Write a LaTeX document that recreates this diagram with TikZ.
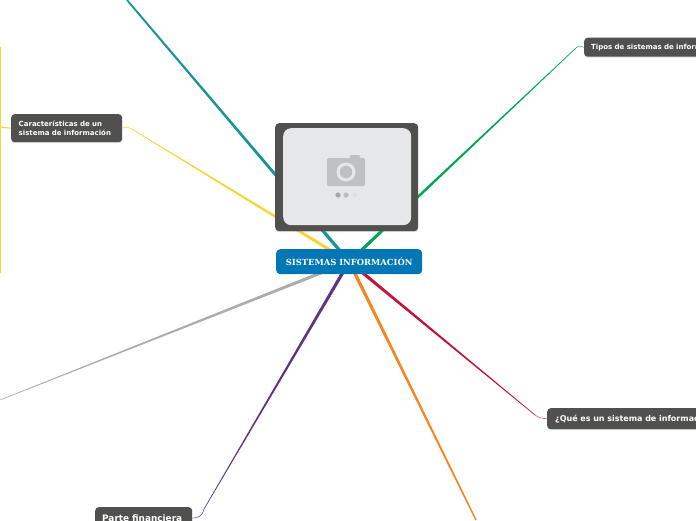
\documentclass[tikz,border=0pt]{standalone}
\usepackage{fontspec}
\setmainfont{DejaVu Sans}
\newfontfamily\rootfont{DejaVu Serif}
\usetikzlibrary{calc,shadows,backgrounds}
\definecolor{dark}{HTML}{50504E}
\definecolor{inner}{HTML}{E6E7E9}
\definecolor{blue1}{HTML}{0277B5}
\definecolor{cam}{HTML}{BFC0C2}
\definecolor{dot1}{HTML}{A6A7A9}
\definecolor{dot2}{HTML}{BCBDBF}
\definecolor{dot3}{HTML}{DFE0E2}
\definecolor{cteal}{HTML}{17959B}
\definecolor{cgreen}{HTML}{00A651}
\definecolor{cyellow}{HTML}{FBD52F}
\definecolor{cgray}{HTML}{ABABAB}
\definecolor{cpurple}{HTML}{5B3583}
\definecolor{corange}{HTML}{F6861F}
\definecolor{cred}{HTML}{C2143A}
\newcommand{\taper}[4]{% colour, from, to, end half-width
  \fill[#1] ($(#2)!1.7pt!90:(#3)$) -- ($(#2)!1.7pt!-90:(#3)$)
    -- ($(#3)!#4pt!90:(#2)$) -- ($(#3)!#4pt!-90:(#2)$) -- cycle;}
\tikzset{
  x=1pt,y=-1pt,
  softshadow/.style={drop shadow={shadow xshift=0pt,shadow yshift=-1pt,opacity=.25}},
  topic/.style={fill=dark,rounded corners=3.5pt,text=white,
    font=\bfseries\fontsize{7}{9}\selectfont,
    align=left,anchor=north west,inner ysep=0pt,softshadow},
  elbow/.style={line width=.6pt},
}
\begin{document}
\begin{tikzpicture}
\clip (0,0) rectangle (696,520);
% picture frame
\node[fill=dark,rounded corners=4pt,minimum width=143pt,minimum height=108pt,inner sep=0pt,anchor=north west,softshadow] (frame) at (275,123) {};
\node[fill=inner,rounded corners=8pt,minimum width=128pt,minimum height=97pt,inner sep=0pt,anchor=north west] (photo) at (283,128) {};
% camera icon
\fill[cam,rounded corners=1.5pt] (327,158) rectangle (365,186);
\fill[cam,rounded corners=1pt] (350,155) rectangle (360,160);
\fill[inner] (346,172) circle (9.5);
\fill[cam] (346,172) circle (6.3);
\fill[dot1] (338,195) circle (2.6);
\fill[dot2] (346,195) circle (2.6);
\fill[dot3] (355,195) circle (2.6);
% central topic
\node[fill=blue1,rounded corners=4pt,minimum width=146pt,minimum height=25pt,inner sep=0pt,text=white,
  font=\rootfont\bfseries\fontsize{8.4}{10}\selectfont,anchor=north west] (root) at (276,249) {SISTEMAS INFORMACIÓN};
% topics
\node[topic,minimum height=28pt,text width=96pt,inner xsep=7.5pt] (carac) at (11,114) {Características de un\\sistema de información};
\node[topic,minimum height=19pt,text width=200pt,inner xsep=7pt] (tipos) at (584,37.5) {Tipos de sistemas de información};
\node[topic,minimum height=21pt,text width=220pt,inner xsep=8pt,font=\bfseries\fontsize{8}{10}\selectfont] (que) at (547,408) {¿Qué es un sistema de información?};
\node[topic,minimum height=22pt,text width=83pt,inner xsep=7pt,font=\bfseries\fontsize{8.9}{10}\selectfont] (parte) at (95,507) {Parte financiera};
% connectors
\coordinate (tealEnd) at (127,0);
\coordinate (grayEnd) at (0,400);
\coordinate (orangeEnd) at (476,520);
\coordinate (greenBend) at (577,47);
\coordinate (yellowBend) at (131,128.5);
\coordinate (purpleBend) at (204,509);
\coordinate (redBend) at (535,415);
\coordinate (yTop) at (0.5,47);
\coordinate (yBot) at (0.5,273);
\coordinate (yJoin) at (0,127);
\begin{scope}[on background layer]
\fill[white] (0,0) rectangle (696,520);
\taper{cteal}{root.center}{tealEnd}{.9}
\taper{cgray}{root.center}{grayEnd}{.3}
\taper{corange}{root.center}{orangeEnd}{.7}
\taper{cgreen}{root.center}{greenBend}{.3}
\taper{cyellow}{root.center}{yellowBend}{.3}
\taper{cpurple}{root.center}{purpleBend}{.3}
\taper{cred}{root.center}{redBend}{.3}
\draw[elbow,cgreen!70] (greenBend) .. controls (579.5,45.5) and (581,46) .. (tipos.west);
\draw[elbow,cyellow] (yellowBend) .. controls (128,126.5) and (126,127) .. (carac.east);
\draw[elbow,cpurple!80] (purpleBend) .. controls (202,517) and (198,517.5) .. (parte.east);
\draw[elbow,cred!70] (redBend) .. controls (539,418) and (542,418.5) .. (que.west);
\draw[cyellow,line width=1pt] (yTop) -- (yBot);
\draw[cyellow,line width=1pt] (carac.west) -- (yJoin);
\end{scope}
\end{tikzpicture}
\end{document}
